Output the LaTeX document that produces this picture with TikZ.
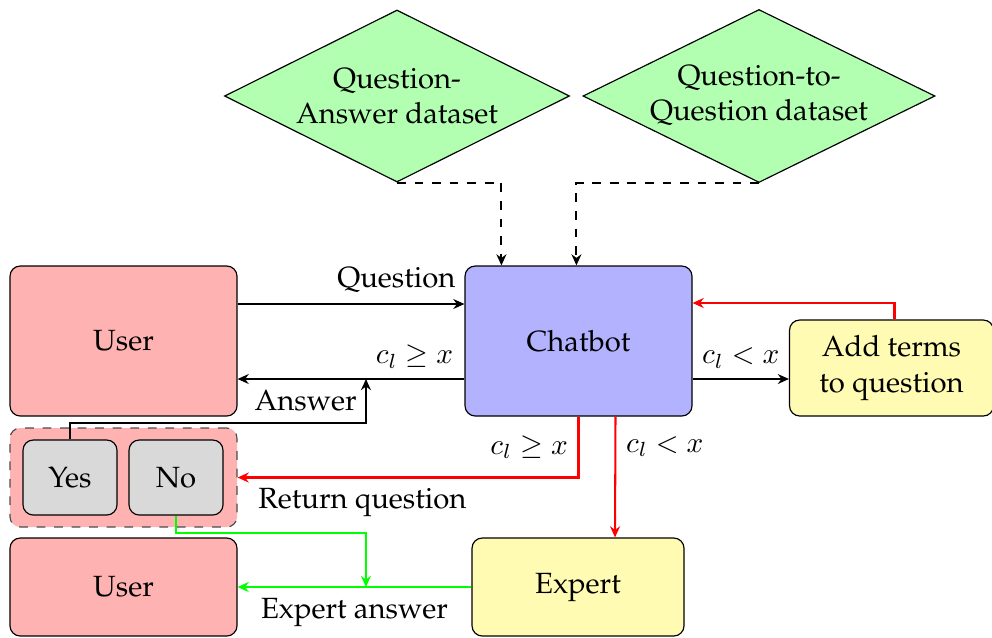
\documentclass[tikz,border=0pt]{standalone}
\usepackage[T1]{fontenc}
\usepackage{palatino}
\usetikzlibrary{shapes.geometric,arrows.meta,calc}
\def\pxu{0.342pt}
\begin{document}
\begin{tikzpicture}[x=0.342pt,y=-0.342pt,
  box/.style={draw, rounded corners=3.5pt, align=center, inner sep=0pt},
  data/.style={draw, diamond, aspect=2, fill=green!30, align=center, inner sep=0pt},
  conn/.style={line width=0.7pt, -{Stealth[length=3.8pt,width=3.4pt]}},
  lbl/.style={font=\normalsize}]
\useasboundingbox (0,0) rectangle (992,637);

% data sources
\node[data, minimum width=345*\pxu, minimum height=172*\pxu] (qa) at (397,96) {Question-\\Answer dataset};
\node[data, minimum width=352*\pxu, minimum height=173*\pxu] (qq) at (759,96) {Question-to-\\Question dataset};

% main blocks
\node[box, fill=red!30, minimum width=227*\pxu, minimum height=150*\pxu] (user) at (123.5,341) {User};
\node[box, fill=blue!30, minimum width=227*\pxu, minimum height=150*\pxu] (chatbot) at (578.5,341) {Chatbot};
\node[box, fill=yellow!30, minimum width=204*\pxu, minimum height=96*\pxu] (add) at (891.5,368) {Add terms\\to question};
\node[box, fill=yellow!30, minimum width=212*\pxu, minimum height=98*\pxu] (expert) at (578,587) {Expert};
\node[box, fill=red!30, minimum width=227*\pxu, minimum height=98*\pxu] (user2) at (123.5,587) {User};

% feedback group
\node[box, fill=red!30, draw=black!70, dashed, minimum width=227*\pxu, minimum height=99*\pxu] (group) at (123.5,477.5) {};
\node[box, fill=gray!30, minimum width=94*\pxu, minimum height=75*\pxu] (yes) at (70,477.5) {Yes};
\node[box, fill=gray!30, minimum width=94*\pxu, minimum height=75*\pxu] (no) at (176,477.5) {No};

% dataset lookups
\draw[conn, dashed] (qa.south) -| ($(chatbot.north west)+(37,0)$);
\draw[conn, dashed] (qq.south) -| ($(chatbot.north west)+(112,0)$);

% question / answer
\draw[conn] ($(user.east)+(0,-37)$) -- node[pos=0.7, above, lbl] {Question} ($(chatbot.west)+(0,-37)$);
\draw[conn] ($(chatbot.west)+(0,38)$) --
  node[pos=0.22, above, lbl] {$c_l \geq x$}
  node[pos=0.7, below, lbl] {Answer}
  coordinate[pos=0.434] (ansj) ($(user.east)+(0,38)$);
\draw[conn] (yes.north) -- ++(0,-16) -| (ansj);

% term expansion loop
\draw[conn] ($(chatbot.east)+(0,38)$) -- node[above, lbl] {$c_l < x$} ($(add.west)+(0,11)$);
\draw[conn, red] ($(add.north)+(3,0)$) |- ($(chatbot.east)+(0,-38)$);

% low-confidence routes
\draw[conn, red] (chatbot.south) |- node[pos=0.25, left, lbl, black] {$c_l \geq x$}
  node[pos=0.817, below, lbl, black] {Return question} (group.east);
\draw[conn, red] ($(chatbot.south)+(37,0)$) -- node[pos=0.25, right, lbl, black] {$c_l < x$} ($(expert.north)+(37,0)$);

% expert answer
\draw[conn, green] (expert.west) -- node[pos=0.5, below, lbl, black] {Expert answer}
  coordinate[pos=0.451] (gj) (user2.east);
\draw[conn, green] (no.south) -- ++(0,17) -| (gj);
\end{tikzpicture}
\end{document}
